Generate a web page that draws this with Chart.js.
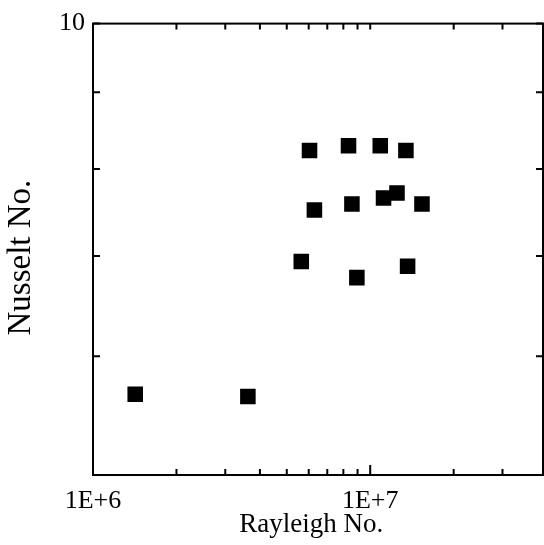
<!DOCTYPE html>
<html>
<head>
<meta charset="utf-8">
<script src="https://cdn.jsdelivr.net/npm/chart.js@4/dist/chart.umd.min.js"></script>
<style>
  html, body { margin: 0; padding: 0; background: #fff; }
  #wrap { width: 544px; height: 545px; }
</style>
</head>
<body>
<div id="wrap"><canvas id="grafico"></canvas></div>
<script>
// datos (Rayleigh vs Nusselt)
const rayleigh = [1.42e6, 3.62e6, 5.64e6, 6.04e6, 6.29e6, 8.35e6, 8.59e6, 8.95e6, 1.087e7, 1.117e7, 1.249e7, 1.345e7, 1.364e7, 1.537e7];
const nusselt  = [5.66,   5.64,   6.94,   8.23,   7.51,   8.29,   7.58,   6.77,   8.29,    7.65,    7.71,    8.23,    6.89,    7.58];
const xEtiquetas = { 1e6: '1E+6', 1e7: '1E+7' };
const yEtiquetas = { 10: '10' };
const xMin = 1e6, xMax = 4.2e7;
const yMin = 5, yMax = 10;

const puntos = rayleigh.map((r, i) => ({ x: r, y: nusselt[i] }));
const fuente = 'Liberation Serif, Times New Roman, serif';

// solo mantisas enteras (1,2,...,9 x 10^n)
function esEntera(v) {
    const m = v / Math.pow(10, Math.floor(Math.log10(v)));
    return Math.abs(m - Math.round(m)) < 1e-6;
}

// marcas hacia adentro en los cuatro lados + marco
const marcasInternas = {
    id: 'marcasInternas',
    afterDraw(chart) {
        const { ctx, chartArea: a, scales } = chart;
        ctx.save();
        ctx.strokeStyle = '#000';
        ctx.lineWidth = 2;
        scales.x.ticks.forEach(t => {
            if (t.value > xMax || t.value < xMin || !esEntera(t.value)) return;
            const px = scales.x.getPixelForValue(t.value);
            if (a.right - px < 8) return;
            const mayor = xEtiquetas[t.value] !== undefined;
            const lb = mayor ? 10 : 6;
            ctx.beginPath();
            ctx.moveTo(px, a.bottom); ctx.lineTo(px, a.bottom - lb);
            ctx.moveTo(px, a.top); ctx.lineTo(px, a.top + 6);
            ctx.stroke();
        });
        scales.y.ticks.forEach(t => {
            if (!esEntera(t.value)) return;
            const py = scales.y.getPixelForValue(t.value);
            ctx.beginPath();
            ctx.moveTo(a.left, py); ctx.lineTo(a.left + 7, py);
            ctx.moveTo(a.right, py); ctx.lineTo(a.right - 7, py);
            ctx.stroke();
        });
        ctx.strokeRect(a.left, a.top, a.right - a.left, a.bottom - a.top);
        ctx.restore();
    }
};

new Chart(document.getElementById('grafico'), {
    type: 'scatter',
    data: {
        datasets: [{
            data: puntos,
            pointStyle: 'rect',
            pointRadius: 11,
            pointHoverRadius: 11,
            backgroundColor: '#000',
            borderColor: '#000',
            borderWidth: 0
        }]
    },
    options: {
        responsive: true,
        maintainAspectRatio: false,
        animation: false,
        layout: { autoPadding: false, padding: { top: 23, right: 1, left: 0, bottom: 0 } },
        plugins: { legend: { display: false }, tooltip: { enabled: false } },
        scales: {
            x: {
                type: 'logarithmic',
                min: xMin,
                max: xMax,
                afterFit: s => { s.height = 70; },
                grid: { drawOnChartArea: false, drawTicks: true, tickLength: 11, tickColor: 'rgba(0,0,0,0)' },
                border: { display: true, color: '#000', width: 2 },
                ticks: {
                    autoSkip: false,
                    maxRotation: 0,
                    padding: 0,
                    color: '#000',
                    font: { family: fuente, size: 26 },
                    callback: v => xEtiquetas[v] || ''
                },
                title: {
                    display: true,
                    text: 'Rayleigh No.  ',
                    color: '#000',
                    font: { family: fuente, size: 27 },
                    padding: { top: 0, bottom: 4 }
                }
            },
            y: {
                type: 'logarithmic',
                min: yMin,
                max: yMax,
                afterFit: s => { s.width = 93; },
                grid: { drawOnChartArea: false, drawTicks: false },
                border: { display: true, color: '#000', width: 2 },
                ticks: {
                    autoSkip: false,
                    padding: 8,
                    color: '#000',
                    font: { family: fuente, size: 26 },
                    callback: v => yEtiquetas[v] || ''
                },
                title: {
                    display: true,
                    text: 'Nusselt No.  ',
                    color: '#000',
                    font: { family: fuente, size: 33 },
                    padding: { top: 2, bottom: 0 }
                }
            }
        }
    },
    plugins: [marcasInternas]
});
</script>
</body>
</html>
